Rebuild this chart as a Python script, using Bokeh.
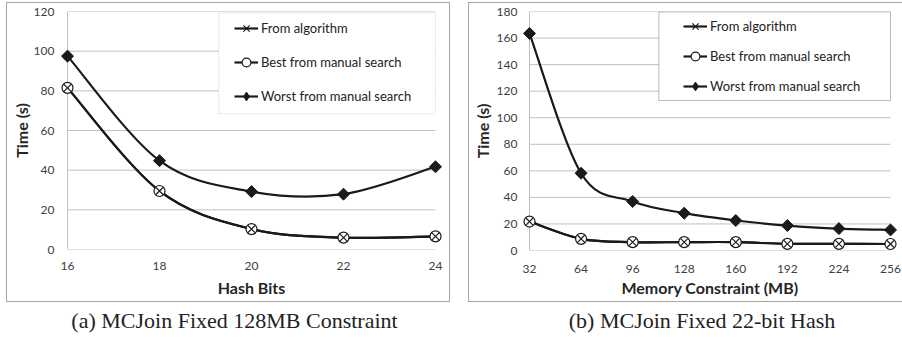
import math
from bokeh.plotting import figure
from bokeh.models import (Range1d, FixedTicker, Legend, LegendItem, BoxAnnotation,
                          Label, ColumnDataSource)
from bokeh.layouts import row, column
from bokeh.embed import file_html
from bokeh.resources import INLINE

# ---------------- data ----------------
hash_bits = [16, 18, 20, 22, 24]
hash_algorithm = [81.5, 29.5, 10.3, 6.0, 6.6]
hash_best = [81.5, 29.5, 10.3, 6.0, 6.6]
hash_worst = [97.5, 44.8, 29.2, 27.9, 41.7]
hash_yticks = [0, 20, 40, 60, 80, 100, 120]

mem_mb = [32, 64, 96, 128, 160, 192, 224, 256]
mem_algorithm = [21.8, 8.8, 6.3, 6.3, 6.3, 5.0, 5.0, 4.9]
mem_best = [21.8, 8.8, 6.3, 6.3, 6.3, 5.0, 5.0, 4.9]
mem_worst = [163.5, 58.2, 36.9, 28.1, 22.6, 18.8, 16.5, 15.5]
mem_yticks = [0, 20, 40, 60, 80, 100, 120, 140, 160, 180]

series_labels = ["From algorithm", "Best from manual search", "Worst from manual search"]
x_titles = ["Hash Bits", "Memory Constraint (MB)"]
y_title = "Time (s)"
captions = ["(a) MCJoin Fixed 128MB Constraint", "(b) MCJoin Fixed 22-bit Hash"]

# ---------------- style ----------------
FONT = "Lato"
INK = "#1a1a1a"
GRID = "#c0c0c0"
PANEL = "#a6a6a6"
PAD_PX = 7
PANEL_H = 298
CAP_H = 33


def smooth_segments(xs, ys):
    """Bezier control points for a smoothed line through the data points."""
    n = len(xs)
    d = dict(x0=[], y0=[], x1=[], y1=[], cx0=[], cy0=[], cx1=[], cy1=[])
    for i in range(n - 1):
        a = max(i - 1, 0)
        b = min(i + 2, n - 1)
        d["x0"].append(xs[i]); d["y0"].append(ys[i])
        d["x1"].append(xs[i + 1]); d["y1"].append(ys[i + 1])
        d["cx0"].append(xs[i] + (xs[i + 1] - xs[a]) / 6.0)
        d["cy0"].append(ys[i] + (ys[i + 1] - ys[a]) / 6.0)
        d["cx1"].append(xs[i + 1] - (xs[b] - xs[i]) / 6.0)
        d["cy1"].append(ys[i + 1] - (ys[b] - ys[i]) / 6.0)
    return d


def make_panel(xs, alg, best, worst, yticks, xlabel, cfg):
    inner = cfg["width"] - cfg["ml"] - cfg["mr"] - 2 * PAD_PX
    pad = (xs[-1] - xs[0]) * PAD_PX / inner
    p = figure(width=cfg["width"], height=PANEL_H, output_backend="svg",
               toolbar_location=None,
               x_range=Range1d(xs[0] - pad, xs[-1] + pad),
               y_range=Range1d(yticks[0], yticks[-1]),
               min_border_left=cfg["ml"], min_border_right=cfg["mr"],
               min_border_top=cfg["mt"], min_border_bottom=cfg["mb"],
               styles={"outline": "1px solid " + PANEL})
    p.outline_line_color = None
    p.xgrid.visible = False
    p.ygrid.visible = False

    n = len(yticks)
    p.segment(x0=[xs[0]] * n, x1=[xs[-1]] * n, y0=yticks, y1=yticks,
              line_color=GRID, line_width=1)
    p.segment(x0=[xs[0]], x1=[xs[0]], y0=[yticks[0]], y1=[yticks[-1]],
              line_color=GRID, line_width=1)

    for ys in (alg, best, worst):
        p.bezier(source=ColumnDataSource(smooth_segments(xs, ys)),
                 x0="x0", y0="y0", x1="x1", y1="y1",
                 cx0="cx0", cy0="cy0", cx1="cx1", cy1="cy1",
                 line_color=INK, line_width=2.2)

    # legend proxies (NaN -> nothing drawn in the plot area)
    proxies = [p.line(x=[math.nan], y=[math.nan], line_color=INK, line_width=2.2)
               for _ in range(3)]
    diamond_proxy = p.scatter(x=[math.nan], y=[math.nan], marker="diamond",
                              fill_color=INK, line_color=INK)

    r_best = p.scatter(xs, best, marker="circle", size=11, fill_color="white",
                       line_color=INK, line_width=1.2)
    r_alg = p.scatter(xs, alg, marker="x", size=10, line_color=INK, line_width=1.2)
    p.scatter(xs, worst, marker="square", angle=math.pi / 4, size=8.5,
              fill_color=INK, line_color=INK, line_width=1)

    for ax in (p.xaxis[0], p.yaxis[0]):
        ax.axis_line_color = None
        ax.major_tick_line_color = None
        ax.minor_tick_line_color = None
        ax.major_tick_out = 0
        ax.major_tick_in = 0
        ax.minor_tick_out = 0
        ax.minor_tick_in = 0
        ax.major_label_text_font = FONT
        ax.major_label_text_font_size = "12px"
        ax.major_label_text_color = "#404040"
        ax.axis_label_text_font = FONT
        ax.axis_label_text_font_size = "16px"
        ax.axis_label_text_font_style = "bold"
        ax.axis_label_text_color = "#262626"
    p.xaxis[0].ticker = FixedTicker(ticks=xs)
    p.yaxis[0].ticker = FixedTicker(ticks=yticks)
    p.xaxis[0].axis_label = xlabel
    p.yaxis[0].axis_label = y_title
    p.xaxis[0].major_label_standoff = cfg["xms"]
    p.yaxis[0].major_label_standoff = cfg["yms"]
    p.xaxis[0].axis_label_standoff = cfg["xls"]
    p.yaxis[0].axis_label_standoff = cfg["yls"]

    lb = cfg["lbox"]
    p.add_layout(BoxAnnotation(left=lb[0], right=lb[1], top=lb[2], bottom=lb[3],
                               left_units="canvas", right_units="canvas",
                               top_units="canvas", bottom_units="canvas",
                               fill_color="white", fill_alpha=1,
                               line_color=cfg["lcolor"], line_width=1))

    items = [LegendItem(label=series_labels[0], renderers=[proxies[0], r_alg]),
             LegendItem(label=series_labels[1], renderers=[proxies[1], r_best]),
             LegendItem(label=series_labels[2], renderers=[proxies[2], diamond_proxy])]
    legend = Legend(items=items, location=cfg["lloc"], padding=5, spacing=cfg["lsp"],
                    glyph_width=24, glyph_height=22, label_height=22, label_standoff=3,
                    label_text_font=FONT, label_text_font_size="13px",
                    label_text_color="#222222", border_line_alpha=0,
                    background_fill_alpha=0, margin=0)
    p.add_layout(legend)
    return p


def make_caption(text, cfg):
    c = figure(width=cfg["width"], height=CAP_H, output_backend="svg", toolbar_location=None,
               x_range=Range1d(0, 1), y_range=Range1d(0, 1),
               x_axis_location=None, y_axis_location=None,
               min_border_left=cfg["ml"], min_border_right=cfg["mr"],
               min_border_top=0, min_border_bottom=0)
    c.outline_line_color = None
    c.xgrid.visible = False
    c.ygrid.visible = False
    c.add_layout(Label(x=cfg["capx"], y=15, x_units="screen", y_units="screen", text=text,
                       text_font="Liberation Serif", text_font_size="22px",
                       text_color="#222222", text_align="center", text_baseline="middle"))
    return c


cfg_a = dict(width=442, ml=53, mr=7, mt=8, mb=52, xms=12, xls=5, yms=6, yls=0,
             lbox=(211.3, 428.0, 9.3, 110.3), lcolor="#bfbfbf", lloc=(169, 137), lsp=12,
             capx=174)
cfg_b = dict(width=433, ml=53, mr=5, mt=8, mb=51, xms=14, xls=2, yms=5, yls=2,
             lbox=(189.3, 421.0, 8.5, 97.0), lcolor="#262626", lloc=(156, 148), lsp=8,
             capx=179.5)

p1 = make_panel(hash_bits, hash_algorithm, hash_best, hash_worst, hash_yticks,
                x_titles[0], cfg_a)
p2 = make_panel(mem_mb, mem_algorithm, mem_best, mem_worst, mem_yticks,
                x_titles[1], cfg_b)
c1 = make_caption(captions[0], cfg_a)
c2 = make_caption(captions[1], cfg_b)

layout = row(column(p1, c1, spacing=1), column(p2, c2, spacing=1), spacing=20,
             margin=(3, 0, 0, 7))

open("out.html", "w").write(file_html(layout, INLINE))
